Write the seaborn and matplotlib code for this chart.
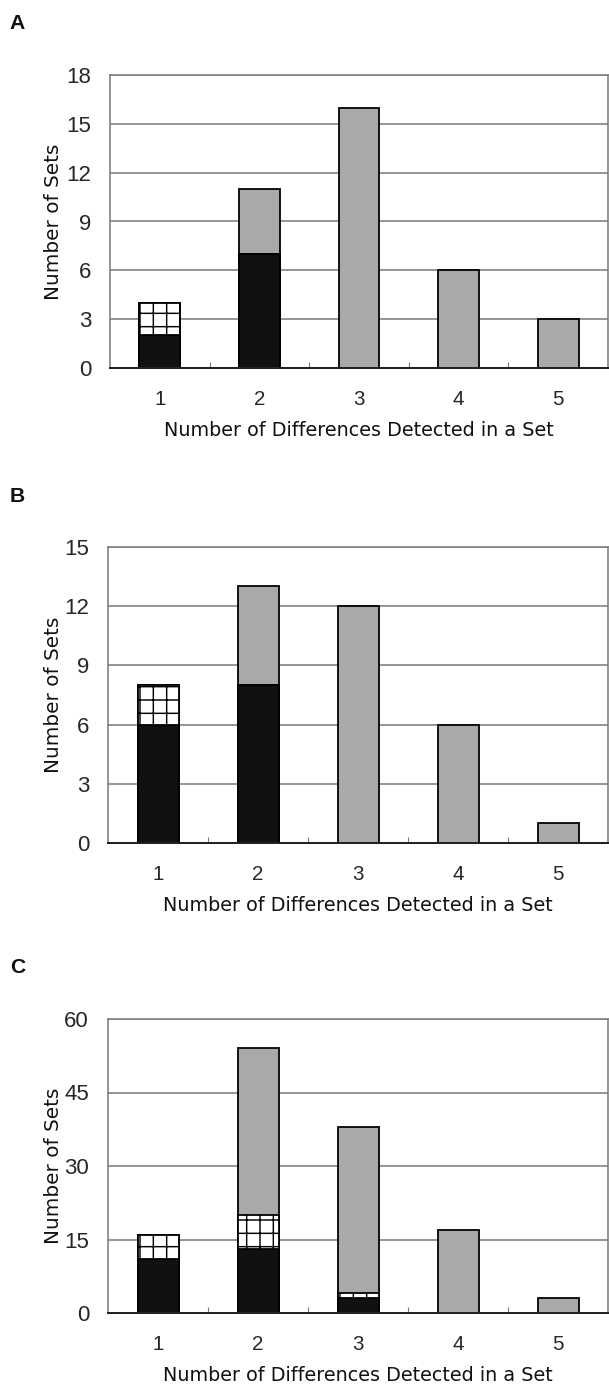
import matplotlib
matplotlib.use("Agg")
import matplotlib.pyplot as plt
import seaborn as sns
import numpy as np

# ---------------- data ----------------
categories = ["1", "2", "3", "4", "5"]

# Panel A
a_black = [2, 7, 0, 0, 0]
a_hatch = [2, 0, 0, 0, 0]
a_gray = [0, 4, 16, 6, 3]
a_ticks = [0, 3, 6, 9, 12, 15, 18]

# Panel B
b_black = [6, 8, 0, 0, 0]
b_hatch = [2, 0, 0, 0, 0]
b_gray = [0, 5, 12, 6, 1]
b_ticks = [0, 3, 6, 9, 12, 15]

# Panel C
c_black = [11, 13, 3, 0, 0]
c_hatch = [5, 7, 1, 0, 0]
c_gray = [0, 34, 34, 17, 3]
c_ticks = [0, 15, 30, 45, 60]

panel_letters = ["A", "B", "C"]
x_label = "Number of Differences Detected in a Set"
y_label = "Number of Sets"

# ---------------- style ----------------
sns.set_theme(style="white")
plt.rcParams["font.family"] = ["DejaVu Sans"]
plt.rcParams["hatch.linewidth"] = 1.3
plt.rcParams["hatch.color"] = "#111111"

DPI = 80
W, H = 609, 1389
fig = plt.figure(figsize=(W / DPI, H / DPI), dpi=DPI)

BLACK = "#111111"
GRAY = "#a9a9a9"
GRID = "#7a7a7a"

tick_font = ["Liberation Sans Narrow", "Liberation Sans", "DejaVu Sans"]

# axes boxes in pixels: (left, top, right, bottom)
boxes = [(110, 75, 608, 368), (108, 547, 608, 843), (108, 1019, 608, 1313)]
letter_pos = [(9, 29), (10, 502), (10, 973)]

panels = [
    (a_black, a_hatch, a_gray, a_ticks),
    (b_black, b_hatch, b_gray, b_ticks),
    (c_black, c_hatch, c_gray, c_ticks),
]

for i, ((blk, htc, gry, yt), (l, t, r, b)) in enumerate(zip(panels, boxes)):
    ax = fig.add_axes([l / W, 1 - b / H, (r - l) / W, (b - t) / H])
    blk = np.array(blk)
    htc = np.array(htc)
    gry = np.array(gry)
    total = blk + htc + gry
    lower = blk + htc

    common = dict(x=categories, order=categories, width=0.41, errorbar=None,
                  saturation=1, edgecolor="black", linewidth=1.6, ax=ax)
    sns.barplot(y=total, color=GRAY, **common)
    sns.barplot(y=lower, color="white", hatch="+", **common)
    sns.barplot(y=blk, color=BLACK, **common)

    ax.set_xlim(-0.5, 4.5)
    ax.set_ylim(yt[0], yt[-1])
    ax.set_yticks(yt)
    ax.set_axisbelow(True)
    ax.yaxis.grid(True, color=GRID, linewidth=1.4)
    ax.xaxis.grid(False)

    for side in ["left", "top", "right"]:
        ax.spines[side].set_color(GRID)
        ax.spines[side].set_linewidth(1.4)
        ax.spines[side].set_visible(True)
    ax.spines["bottom"].set_color("#222222")
    ax.spines["bottom"].set_linewidth(1.8)

    ax.set_xticks(range(len(categories)))
    ax.set_xticklabels(categories)
    ax.set_xticks([0.5, 1.5, 2.5, 3.5], minor=True)
    ax.tick_params(axis="x", which="major", length=0, pad=20, labelsize=18.5)
    ax.tick_params(axis="x", which="minor", direction="in", length=5.5,
                   width=1.0, color=GRID, bottom=True)
    ax.tick_params(axis="y", which="major", length=0, pad=17, labelsize=20)
    for lab in ax.get_xticklabels() + ax.get_yticklabels():
        lab.set_family(tick_font)

    ax.set_xlabel(x_label, fontsize=17.2, color="#111111")
    ax.xaxis.set_label_coords(0.5, -53 / (b - t))
    ax.set_ylabel(y_label, fontsize=18, color="#111111")
    ax.yaxis.set_label_coords(-(l - 63) / (r - l), 0.5)

    lx, ly = letter_pos[i]
    fig.text(lx / W, 1 - ly / H, panel_letters[i], fontsize=19,
             fontweight="bold", family=["Liberation Sans", "DejaVu Sans"],
             ha="left", va="baseline", color="#111111")

fig.savefig("out.png", dpi=DPI, facecolor="white")
